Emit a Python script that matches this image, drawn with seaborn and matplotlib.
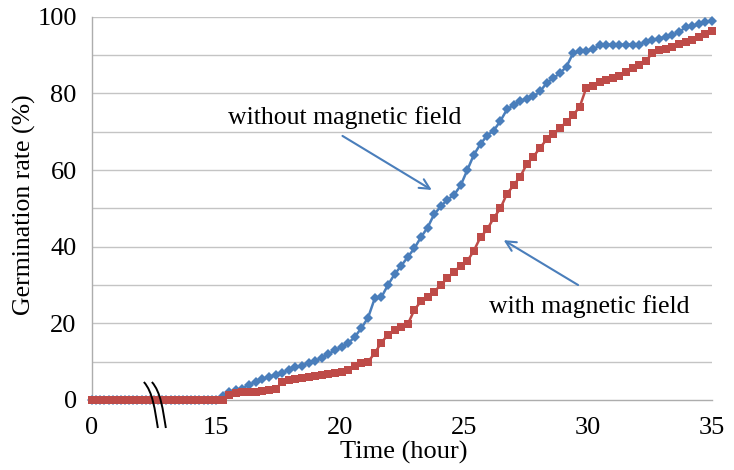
import numpy as np
import pandas as pd
import matplotlib
matplotlib.use("Agg")
import matplotlib.pyplot as plt
import seaborn as sns
from matplotlib.path import Path
from matplotlib.patches import PathPatch
from matplotlib.transforms import Affine2D

# ---------------- data ----------------
early_hours = [0, 0.5, 1, 1.5, 2, 2.5, 3, 3.5, 4, 4.5, 5, 5.5, 6, 6.5, 7, 7.5,
               8, 8.5, 9, 9.5, 10, 10.5, 11, 11.5, 12, 12.5, 13, 13.5, 14, 14.5]
early_rate = [0, 0, 0, 0, 0, 0, 0, 0, 0, 0, 0, 0, 0, 0, 0,
              0, 0, 0, 0, 0, 0, 0, 0, 0, 0, 0, 0, 0, 0, 0]
# readings every 16 minutes from 15 h to 35 h
late_hours = list(np.round(15 + np.arange(76) * 16 / 60, 4))

without_field = [0, 1, 2, 2.5, 3, 4, 4.7, 5.5, 6, 6.6,
                 7.1, 7.8, 8.5, 9, 9.6, 10.2, 11, 12, 13, 13.8,
                 14.8, 16.5, 18.8, 21.5, 26.5, 26.8, 30, 32.8, 35, 37.3,
                 39.6, 42.5, 45, 48.5, 50.5, 52.3, 53.5, 56, 60, 64,
                 66.8, 69, 70.3, 72.8, 75.8, 77, 78, 78.6, 79.2, 80.5,
                 82.7, 84, 85.2, 87, 90.5, 91, 91, 91.5, 92.5, 92.7,
                 92.7, 92.7, 92.7, 92.7, 92.7, 93.5, 94, 94.3, 94.8, 95.2,
                 96, 97.2, 97.5, 98, 98.5, 99]
with_field = [0, 0, 1.2, 1.8, 2, 2, 2.2, 2.4, 2.5, 2.8,
              4.7, 5.2, 5.5, 5.7, 6, 6.2, 6.5, 6.7, 7, 7.3,
              7.9, 8.8, 9.7, 10, 12.2, 15, 17, 18.2, 19, 19.8,
              23.5, 25.8, 26.8, 28.3, 30, 31.8, 33.5, 35, 36.2, 39,
              42.5, 44.5, 47.5, 50, 53.8, 56, 58.3, 61.5, 63.5, 65.8,
              68, 69.3, 71, 72.5, 74.3, 76.5, 81.5, 82, 83, 83.6,
              84, 84.6, 85.5, 86.5, 87.5, 88.5, 90.5, 91.2, 91.7, 92.2,
              92.8, 93.3, 94, 94.8, 95.5, 96.2]

x_ticks = [0, 15, 20, 25, 30, 35]
y_ticks = [0, 20, 40, 60, 80, 100]
y_grid = [10, 20, 30, 40, 50, 60, 70, 80, 90, 100]

label_without = "without magnetic field"
label_with = "with magnetic field"

# ---------------- style ----------------
sns.set_theme(style="white")
plt.rcParams["font.family"] = ["Liberation Serif", "DejaVu Serif"]

BLUE = "#4A7EBB"
RED = "#BE4B48"
GRID = "#C4C4C4"
SPINE = "#ADADAD"

fig = plt.figure(figsize=(7.34, 4.70), dpi=100, facecolor="white")
ax = fig.add_axes([92 / 734, 1 - 400 / 470, 620 / 734, (400 - 16.7) / 470])


# broken time axis: 0-15 h compressed to a third
def fwd(h):
    h = np.asarray(h, dtype=float)
    return np.where(h < 15, h / 3.0, h - 10.0)


def inv(d):
    d = np.asarray(d, dtype=float)
    return np.where(d < 5, d * 3.0, d + 10.0)


ax.set_xscale("function", functions=(fwd, inv))

df_without = pd.DataFrame({"hour": early_hours + late_hours,
                           "rate": early_rate + without_field})
df_with = pd.DataFrame({"hour": early_hours + late_hours,
                        "rate": early_rate + with_field})

for y in y_grid:
    ax.axhline(y, color=GRID, lw=1.0, zorder=0)

sns.lineplot(data=df_without, x="hour", y="rate", ax=ax, color=BLUE,
             marker="D", markersize=5.0, markeredgewidth=0, lw=1.8,
             clip_on=False, zorder=3)
sns.lineplot(data=df_with, x="hour", y="rate", ax=ax, color=RED,
             marker="s", markersize=6.3, markeredgewidth=0, lw=1.8,
             clip_on=False, zorder=4)

ax.set_xlim(0, 35)
ax.set_ylim(0, 100)
ax.set_xticks(x_ticks)
ax.set_xticklabels([str(t) for t in x_ticks])
ax.set_yticks(y_ticks)
ax.set_yticklabels([str(t) for t in y_ticks])
ax.minorticks_off()

ax.tick_params(axis="x", direction="in", length=4.5, width=1, color=SPINE,
               labelsize=19, pad=12, labelcolor="black")
ax.tick_params(axis="y", length=0, labelsize=19, pad=11, labelcolor="black")

for s in ["top", "right"]:
    ax.spines[s].set_visible(False)
for s in ["left", "bottom"]:
    ax.spines[s].set_color(SPINE)
    ax.spines[s].set_linewidth(1.0)

ax.set_xlabel("Time (hour)", fontsize=19, color="black")
ax.set_ylabel("Germination rate (%)", fontsize=18.5, color="black")
ax.xaxis.set_label_coords(0.503, -0.108)
ax.yaxis.set_label_coords(-0.09, 0.51)

# annotations
ax.text(20.2, 73.8, label_without, fontsize=18.5, ha="center", va="center",
        color="black")
ax.annotate("", xy=(23.7, 54.8), xytext=(20.1, 68.9),
            arrowprops=dict(arrowstyle="->", color=BLUE, lw=1.5,
                            mutation_scale=18, shrinkA=0, shrinkB=0))
ax.text(30.05, 24.3, label_with, fontsize=18.5, ha="center", va="center",
        color="black")
ax.annotate("", xy=(26.6, 41.7), xytext=(29.6, 30.0),
            arrowprops=dict(arrowstyle="->", color=BLUE, lw=1.5,
                            mutation_scale=18, shrinkA=0, shrinkB=0))

# axis-break mark "))" near 7 h
fig.canvas.draw()
ax_x, ax_y = ax.transData.transform((7, 0))
for shift in (0, 8):
    verts = [(-6 + shift, 18), (3 + shift, 8), (5 + shift, -10), (8 + shift, -28)]
    codes = [Path.MOVETO, Path.CURVE4, Path.CURVE4, Path.CURVE4]
    patch = PathPatch(Path(verts, codes), facecolor="none", edgecolor="black",
                      lw=1.4, transform=Affine2D().translate(ax_x, ax_y),
                      clip_on=False, zorder=6)
    fig.add_artist(patch)

fig.savefig("out.png", dpi=100, facecolor="white")
